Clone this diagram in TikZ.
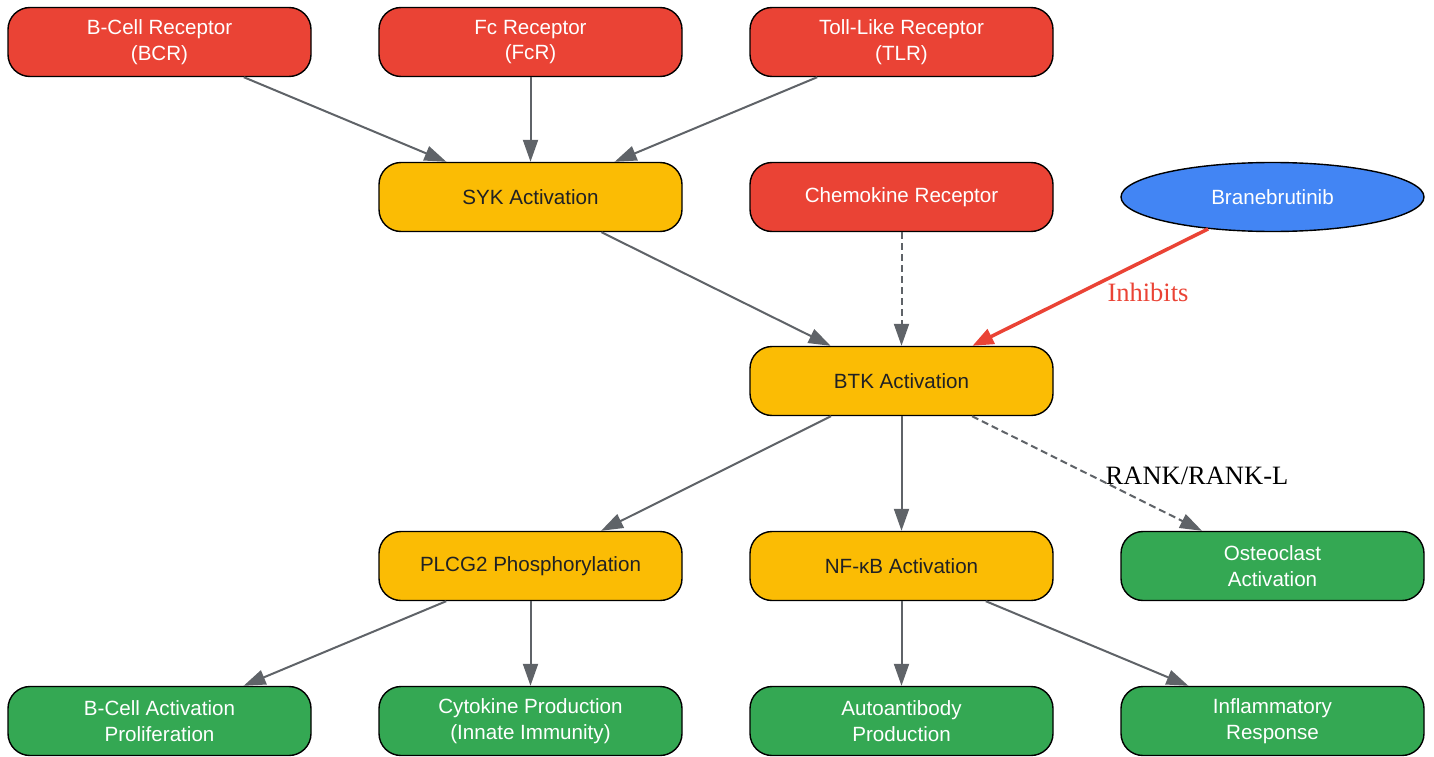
\documentclass[tikz,border=0pt]{standalone}
\usepackage{fontspec}
\setmainfont{Liberation Serif}
\setsansfont{Liberation Sans}
\usepackage{xcolor}
\usetikzlibrary{arrows.meta,shapes.geometric}

\definecolor{recred}{HTML}{EA4335}
\definecolor{actyellow}{HTML}{FBBC04}
\definecolor{outgreen}{HTML}{34A853}
\definecolor{drugblue}{HTML}{4285F4}
\definecolor{edgegray}{HTML}{5F6368}
\definecolor{darktext}{HTML}{202124}

\tikzset{
	box/.style={draw=black, line width=1.4pt, rounded corners=22pt, minimum width=303pt, minimum height=69pt, inner sep=0pt, align=center, font=\sffamily\fontsize{20.6}{25.5}\selectfont},
	receptor/.style={box, fill=recred, text=white},
	activation/.style={box, fill=actyellow, text=darktext},
	outcome/.style={box, fill=outgreen, text=white},
	drug/.style={ellipse, draw=black, line width=1.4pt, fill=drugblue, text=white, minimum width=303pt, minimum height=69pt, inner sep=0pt, font=\sffamily\fontsize{20.6}{25.5}\selectfont},
	link/.style={draw=edgegray, line width=2pt, -{Triangle[length=22pt,width=15pt]}},
	weaklink/.style={link, dash pattern=on 7pt off 4pt},
	inhibit/.style={draw=recred, line width=3.5pt, -{Triangle[length=21pt,width=16pt]}},
	edgelabel/.style={font=\rmfamily\fontsize{26.5}{30}\selectfont, inner sep=0pt}
}

\begin{document}
\begin{tikzpicture}[x=1pt, y=-1pt]
		\useasboundingbox (0,0) rectangle (1434,757);

		\node[receptor] (bcr) at (159.5,42) {B-Cell Receptor\\(BCR)};
		\node[receptor] (fcr) at (530.5,42) {Fc Receptor\\(FcR)};
		\node[receptor] (tlr) at (901.5,42) {Toll-Like Receptor\\(TLR)};

		\node[activation] (syk) at (530.5,197) {SYK Activation};
		\node[receptor] (chemo) at (901.5,197) {Chemokine Receptor};
		\node[drug] (brane) at (1272.5,197) {Branebrutinib};

		\node[activation] (btk) at (901.5,381) {BTK Activation};

		\node[activation] (plcg) at (530.5,566) {PLCG2 Phosphorylation};
		\node[activation] (nfkb) at (901.5,566) {NF-κB Activation};
		\node[outcome] (osteo) at (1272.5,566) {Osteoclast\\Activation};

		\node[outcome] (bcell) at (159.5,721) {B-Cell Activation\\Proliferation};
		\node[outcome] (cyto) at (530.5,721) {Cytokine Production\\(Innate Immunity)};
		\node[outcome] (autoab) at (901.5,721) {Autoantibody\\Production};
		\node[outcome] (inflam) at (1272.5,721) {Inflammatory\\Response};

		\draw[link] (bcr) -- (syk);
		\draw[link] (fcr) -- (syk);
		\draw[link] (tlr) -- (syk);
		\draw[link] (syk) -- (btk);
		\draw[weaklink] (chemo) -- (btk);
		\draw[inhibit] (brane) -- (btk);
		\node[edgelabel, text=recred] (inhlbl) at (1148,292) {Inhibits};

		\draw[link] (btk) -- (plcg);
		\draw[link] (btk) -- (nfkb);
		\draw[weaklink] (btk) -- (osteo);
		\node[edgelabel] (ranklbl) at (1197,476) {RANK/RANK-L};

		\draw[link] (plcg) -- (bcell);
		\draw[link] (plcg) -- (cyto);
		\draw[link] (nfkb) -- (autoab);
		\draw[link] (nfkb) -- (inflam);
	\end{tikzpicture}
\end{document}
